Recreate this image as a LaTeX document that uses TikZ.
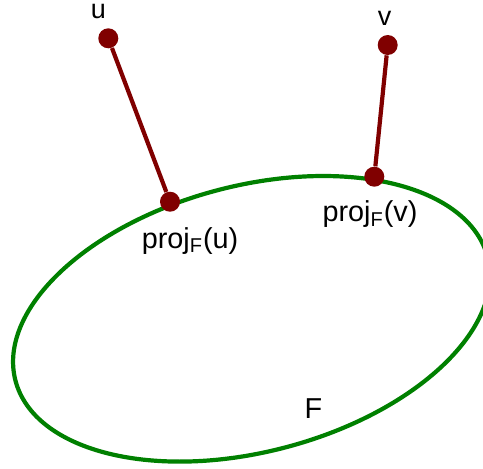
\documentclass[tikz,border=0pt]{standalone}
\usepackage{fontspec}
\setmainfont{Liberation Sans}
\usepackage{xcolor}
\usepackage{tikz}
\definecolor{projred}{RGB}{128,0,0}
\definecolor{setgreen}{RGB}{0,128,0}

\begin{document}
\begin{tikzpicture}[
      x=0.5pt, y=-0.5pt,
      dot/.style={circle, fill=projred, minimum size=10pt, inner sep=0pt},
      seg/.style={projred, line width=2.1pt},
      fset/.style={setgreen, line width=2.1pt},
      lbl/.style={inner sep=0pt, anchor=base, font=\fontsize{14.4}{17}\selectfont},
      ptlbl/.style={lbl, font=\fontsize{13.5}{16}\selectfont},
    ]
    \useasboundingbox (0,0) rectangle (483,468);

    % ---- the set F ----
    \coordinate (Fc) at (251.5,318.8);
    \draw[fset, rotate around={14.7:(Fc)}] (Fc) ellipse [x radius=244, y radius=133];
    \node[lbl] (lF) at (313.5,418.7) {F};

    % ---- points and their projections ----
    \node[dot] (u)  at (108.3,38.3) {};
    \node[dot] (pu) at (170,201.7) {};
    \node[dot] (v)  at (387.7,45) {};
    \node[dot] (pv) at (374.3,176.7) {};

    \node[ptlbl] (lu) at (98.5,18.5) {u};
    \node[ptlbl] (lv) at (384.5,25.5) {v};
    \node[lbl] (lpu) at (190,248.3) {proj\textsubscript{F}(u)};
    \node[lbl] (lpv) at (370,221.8) {proj\textsubscript{F}(v)};

    % ---- projection segments ----
    \draw[seg] (u) -- (pu);
    \draw[seg] (v) -- (pv);
  \end{tikzpicture}
\end{document}
